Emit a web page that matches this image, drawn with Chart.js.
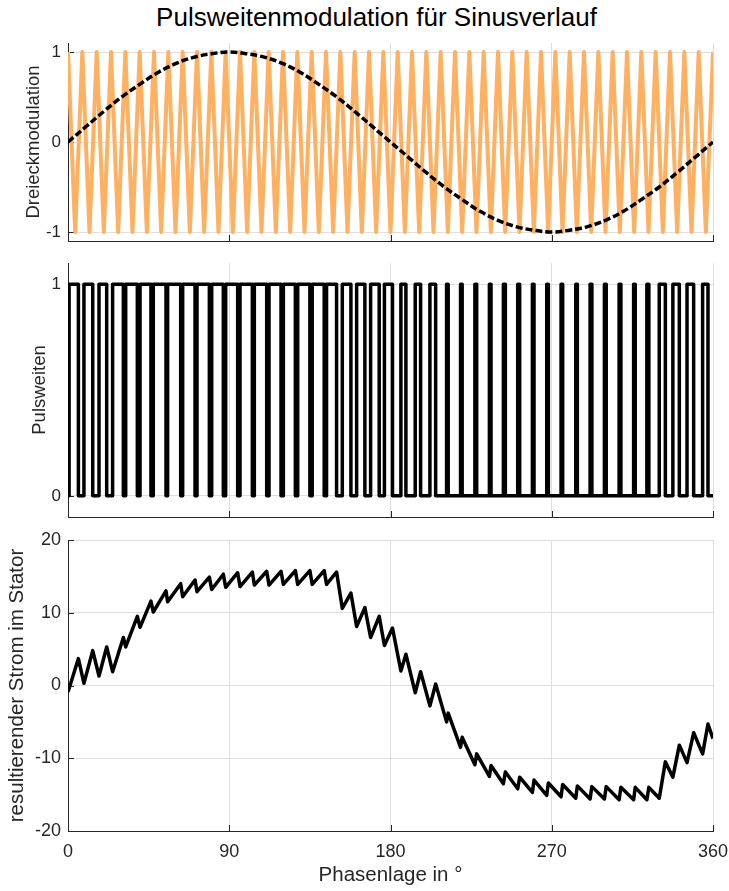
<!DOCTYPE html>
<html>
    <head>
        <title>Pulsweitenmodulation</title>
        <meta charset="UTF-8">
        <style>
            body { margin: 0; background: white; }
            #wrap { position: relative; width: 729px; height: 891px; background: white; }
            #wrap canvas { position: absolute; left: 0; }
            #titel {
                position: absolute; top: 2px; left: 12px; width: 729px;
                text-align: center; font-family: 'Liberation Sans', Arial, sans-serif;
                font-size: 26px; color: #000;
            }
        </style>
    </head>
    <body>
        <div id="wrap">
            <div id="titel">Pulsweitenmodulation für Sinusverlauf</div>
            <canvas id="grafica-dreieck" width="729" height="213" style="top:32px"></canvas>
            <canvas id="grafica-puls" width="729" height="266" style="top:255px"></canvas>
            <canvas id="grafica-strom" width="729" height="361" style="top:530px"></canvas>
        </div>

        <script src="https://cdn.jsdelivr.net/npm/chart.js@4"></script>
        <script>
            // Achsen
            var xTicks = [0, 90, 180, 270, 360];
            var yTicksDreieck = [-1, 0, 1];
            var yTicksPuls = [0, 1];
            var yTicksStrom = [-20, -10, 0, 10, 20];

            // Traegersignal (Dreieck), Eckpunkte
            var traegerX = [0, 4, 8, 12, 16, 20, 24, 28, 32, 36, 40, 44, 48, 52, 56, 60, 64, 68, 72, 76, 80, 84, 88,
                92, 96, 100, 104, 108, 112, 116, 120, 124, 128, 132, 136, 140, 144, 148, 152, 156, 160, 164, 168, 172, 176, 180,
                184, 188, 192, 196, 200, 204, 208, 212, 216, 220, 224, 228, 232, 236, 240, 244, 248, 252, 256, 260, 264, 268,
                272, 276, 280, 284, 288, 292, 296, 300, 304, 308, 312, 316, 320, 324, 328, 332, 336, 340, 344, 348, 352, 356, 360];
            var traegerY = [1, -1, 1, -1, 1, -1, 1, -1, 1, -1, 1, -1, 1, -1, 1, -1, 1, -1, 1, -1, 1, -1, 1,
                -1, 1, -1, 1, -1, 1, -1, 1, -1, 1, -1, 1, -1, 1, -1, 1, -1, 1, -1, 1, -1, 1, -1,
                1, -1, 1, -1, 1, -1, 1, -1, 1, -1, 1, -1, 1, -1, 1, -1, 1, -1, 1, -1, 1, -1,
                1, -1, 1, -1, 1, -1, 1, -1, 1, -1, 1, -1, 1, -1, 1, -1, 1, -1, 1, -1, 1, -1, 1];

            // Sinus (Sollwert)
            var sinusX = [0, 10, 20, 30, 40, 50, 60, 70, 80, 90, 100, 110, 120, 130, 140, 150, 160, 170, 180,
                190, 200, 210, 220, 230, 240, 250, 260, 270, 280, 290, 300, 310, 320, 330, 340, 350, 360];
            var sinusY = [0, 0.17, 0.34, 0.5, 0.64, 0.77, 0.87, 0.94, 0.98, 1, 0.98, 0.94, 0.87, 0.77, 0.64, 0.5, 0.34, 0.17, 0,
                -0.17, -0.34, -0.5, -0.64, -0.77, -0.87, -0.94, -0.98, -1, -0.98, -0.94, -0.87, -0.77, -0.64, -0.5, -0.34, -0.17, 0];

            // Pulsflanken in Grad
            var pulsEin = [0.6, 8.9, 17.3, 24.9, 32.2, 40.2, 47.6, 55.6, 64, 72, 80.2, 88, 96, 104, 112.2, 120.2, 128.2,
                136.3, 144.3, 153.1, 161.1, 168.9, 176.6, 185.8, 193.8, 202, 211.3, 219.1, 227.1, 235.2, 243, 251, 259.2,
                267.2, 275.2, 283.4, 291.4, 299.4, 307.6, 315.7, 323.1, 330, 337.6, 345.5, 354.2];
            var pulsAus = [5.8, 13.8, 21.6, 30.9, 38.7, 46.3, 54.7, 62.9, 70.9, 78.9, 86.7, 94.7, 102.9, 110.9, 118.9,
                126.9, 135, 143, 149.9, 157.9, 165.7, 173.7, 181.1, 188.6, 196.8, 205.2, 212.2, 220, 228.1, 236.1, 244.1,
                252.1, 260.1, 268.1, 276.1, 284.3, 292.4, 300.4, 308.6, 316.6, 324.2, 333.4, 341.2, 349.2, 357.2];

            // Strom im Stator, Eckpunkte
            var stromX = [0, 5.8, 8.9, 13.8, 17.3, 21.6, 24.9, 30.9, 32.2, 38.7, 40.2, 46.3, 47.6, 54.7, 55.6, 62.9, 64,
                70.9, 72, 78.9, 80.2, 86.7, 88, 94.7, 96, 102.9, 104, 110.9, 112.2, 118.9, 120.2, 126.9, 128.2, 135, 136.3,
                143, 144.3, 149.9, 153.1, 157.9, 161.1, 165.7, 168.9, 173.7, 176.6, 181.1, 185.8, 188.6, 193.8, 196.8, 202,
                205.2, 211.3, 212.2, 219.1, 220, 227.1, 228.1, 235.2, 236.1, 243, 244.1, 251, 252.1, 259.2, 260.1, 267.2,
                268.1, 275.2, 276.1, 283.4, 284.3, 291.4, 292.4, 299.4, 300.4, 307.6, 308.6, 315.7, 316.6, 323.1, 324.2,
                330, 333.4, 337.6, 341.2, 345.5, 349.2, 354.2, 357.2, 360];
            var stromY = [-0.9, 3.7, 0.3, 4.8, 1.3, 5.3, 1.9, 6.6, 5.3, 9.5, 8.0, 11.6, 10.1, 13.0, 11.5, 14.0, 12.2,
                14.5, 12.9, 14.9, 13.2, 15.3, 13.5, 15.5, 13.6, 15.6, 13.8, 15.7, 13.8, 15.7, 13.9, 15.8, 13.9, 15.8, 13.9,
                15.8, 13.9, 15.6, 10.6, 12.7, 8.1, 10.7, 6.6, 9.5, 5.5, 7.9, 2.0, 4.3, -1.0, 1.9, -2.8,
                0.2, -5.0, -3.8, -8.5, -7.1, -10.9, -9.4, -12.5, -11.0, -13.5, -11.9, -14.2, -12.6, -14.7, -13.0, -15.1,
                -13.4, -15.3, -13.6, -15.5, -13.8, -15.6, -13.9, -15.6, -13.9, -15.7, -14.0, -15.7, -14.0, -15.7, -14.0,
                -15.5, -10.5, -12.6, -8.2, -10.6, -6.5, -9.4, -5.3, -7.3];

            var achsenFarbe = '#262626';
            var gitterFarbe = '#dfdfdf';
            Chart.defaults.font.family = "'Liberation Sans', Arial, sans-serif";
            Chart.defaults.font.size = 17;
            Chart.defaults.color = achsenFarbe;

            function punkte(xs, ys) {
                return xs.map(function (x, i) { return {x: x, y: ys[i]}; });
            }

            // Rechteck aus den Flanken
            var pulsPunkte = [{x: 0, y: 0}];
            pulsEin.forEach(function (ein, i) {
                pulsPunkte.push({x: ein, y: 1});
                pulsPunkte.push({x: pulsAus[i], y: 0});
            });
            pulsPunkte.push({x: 360, y: 0});

            // Ticks nach innen wie in MATLAB
            var innenTicks = {
                id: 'innenTicks',
                beforeDatasetsDraw: function (c) {
                    var ctx = c.ctx, a = c.chartArea, sx = c.scales.x, sy = c.scales.y;
                    ctx.save();
                    ctx.strokeStyle = achsenFarbe;
                    ctx.lineWidth = 1;
                    ctx.beginPath();
                    sx.ticks.forEach(function (t) {
                        var px = Math.round(sx.getPixelForValue(t.value)) + 0.5;
                        ctx.moveTo(px, a.bottom);
                        ctx.lineTo(px, a.bottom - 6);
                    });
                    sy.ticks.forEach(function (t) {
                        var py = Math.round(sy.getPixelForValue(t.value)) + 0.5;
                        ctx.moveTo(a.left, py);
                        ctx.lineTo(a.left + 6, py);
                    });
                    ctx.stroke();
                    ctx.restore();
                }
            };

            function optionen(cfg) {
                return {
                    responsive: false,
                    animation: false,
                    devicePixelRatio: 1,
                    layout: {padding: {left: cfg.links, right: 16, top: cfg.oben, bottom: 0}},
                    plugins: {legend: {display: false}, tooltip: {enabled: false}},
                    elements: {point: {radius: 0}},
                    scales: {
                        x: {
                            type: 'linear', min: 0, max: 360,
                            afterBuildTicks: function (s) { s.ticks = xTicks.map(function (v) { return {value: v}; }); },
                            afterFit: function (s) {
                                s.height = cfg.xHoehe;
                                s.paddingLeft = 0; s.paddingRight = 0;
                            },
                            ticks: {display: cfg.xLabels, padding: 10, maxRotation: 0, font: {size: cfg.tickGr}},
                            grid: {color: gitterFarbe, drawTicks: false},
                            border: {color: achsenFarbe, width: 1},
                            title: {display: cfg.xLabels, text: 'Phasenlage in °', font: {size: cfg.titelGr},
                                padding: {top: 0, bottom: 3}}
                        },
                        y: {
                            min: cfg.yMin, max: cfg.yMax,
                            afterBuildTicks: function (s) { s.ticks = cfg.yTicks.map(function (v) { return {value: v}; }); },
                            afterFit: function (s) {
                                s.width = 68 - cfg.links;
                                s.paddingTop = 0; s.paddingBottom = 0;
                            },
                            ticks: {padding: 7, font: {size: cfg.tickGr}},
                            grid: {color: gitterFarbe, drawTicks: false},
                            border: {color: achsenFarbe, width: 1},
                            title: {display: true, text: cfg.yTitel, font: {size: cfg.titelGr}, padding: {top: 0, bottom: 0}}
                        }
                    }
                };
            }

            new Chart(document.getElementById('grafica-dreieck').getContext('2d'), {
                type: 'line',
                data: {
                    datasets: [{
                        data: punkte(sinusX, sinusY),
                        borderColor: '#000000',
                        borderWidth: 3.5,
                        borderDash: [7, 3],
                        tension: 0.4
                    }, {
                        data: punkte(traegerX, traegerY),
                        borderColor: 'rgb(255, 176, 96)',
                        borderWidth: 4,
                        borderJoinStyle: 'round'
                    }]
                },
                options: optionen({links: 23, oben: 11, xHoehe: 4, xLabels: false, yMin: -1.1, yMax: 1.1,
                    yTicks: yTicksDreieck, yTitel: 'Dreieckmodulation', tickGr: 17, titelGr: 18.5}),
                plugins: [innenTicks]
            });

            new Chart(document.getElementById('grafica-puls').getContext('2d'), {
                type: 'line',
                data: {
                    datasets: [{
                        data: pulsPunkte,
                        borderColor: '#000000',
                        borderWidth: 3.5,
                        stepped: 'before',
                        borderJoinStyle: 'round'
                    }]
                },
                options: optionen({links: 29, oben: 8, xHoehe: 4, xLabels: false, yMin: -0.1, yMax: 1.1,
                    yTicks: yTicksPuls, yTitel: 'Pulsweiten', tickGr: 17, titelGr: 18.5}),
                plugins: [innenTicks]
            });

            new Chart(document.getElementById('grafica-strom').getContext('2d'), {
                type: 'line',
                data: {
                    datasets: [{
                        data: punkte(stromX, stromY),
                        borderColor: '#000000',
                        borderWidth: 3.5,
                        borderJoinStyle: 'round'
                    }]
                },
                options: optionen({links: 5, oben: 10, xHoehe: 60, xLabels: true, yMin: -20, yMax: 20,
                    yTicks: yTicksStrom, yTitel: 'resultierender Strom im Stator', tickGr: 18, titelGr: 20.5}),
                plugins: [innenTicks]
            });
        </script>
    </body>
</html>
